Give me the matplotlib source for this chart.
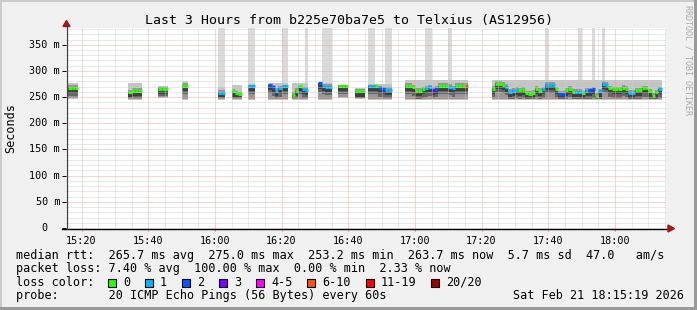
import matplotlib
matplotlib.use('Agg')
import matplotlib.pyplot as plt
from matplotlib.patches import Rectangle, Polygon
from matplotlib.lines import Line2D

W, H = 697, 310

# one sample per 60s, x = minutes after 15:00
seg_start = [16, 34, 43, 50, 61, 65, 70, 76, 83, 91, 97, 102, 106, 117, 143]
seg_median = [
    [268, 268, 268],
    [259, 262, 262, 262],
    [266, 266, 266],
    [272, 272],
    [258, 258],
    [261, 257, 255],
    [272, 272],
    [273, 269, 262, 267, 271, 271],
    [254, 262, 271, 265, 264],
    [276, 272, 270, 270],
    [272, 272, 272],
    [261, 261, 261],
    [271, 271, 271, 267, 265, 264, 264],
    [271, 271, 269, 262, 262, 265, 267, 269, 264, 266, 271, 271, 271, 270, 267,
     271, 271, 271, 271],
    [266, 275, 275, 273, 270, 260, 262, 264, 263, 264, 257, 256, 258, 266, 262,
     265, 273, 273, 273, 265, 256, 256, 263, 266, 260, 260, 260, 257, 262, 263,
     265, 252, 261, 275, 273, 267, 265, 265, 265, 268, 266, 258, 258, 263, 263,
     267, 267, 261, 253, 259, 265],
]
# loss class index per sample (0 -> "0", 1 -> "1", 2 -> "2", 3 -> "3", 5 -> "6-10")
seg_loss = [
    "000", "0000", "000", "00", "11", "000", "11", "221111", "00011", "2111",
    "000", "000", "1102211", "0000001132000110005",
    "000011110000000111102200011012201110000001100000001",
]
smoke_lo = [246, 245, 249, 245, 245, 245, 245, 245, 245, 245, 248, 246, 245, 244, 244]
smoke_hi = [277, 276, 272, 280, 270, 274, 275, 276, 276, 277, 274, 268, 275, 282, 282]
# samples whose upper smoke runs off the top of the chart
spike_minutes = [61, 62, 70, 71, 80, 81, 87, 92, 93, 94, 106, 107, 111, 112,
                 123, 124, 130, 159, 169, 173, 176]

loss_labels = ["0", "1", "2", "3", "4-5", "6-10", "11-19", "20/20"]
loss_colors = ["#26ff00", "#00b8ff", "#0059ff", "#7e00ff", "#ff00ff",
               "#ff5500", "#ff0000", "#a10000"]

xtick_minutes = [20, 40, 60, 80, 100, 120, 140, 160, 180]
xtick_labels = ["15:20", "15:40", "16:00", "16:20", "16:40", "17:00", "17:20",
                "17:40", "18:00"]
ytick_vals = [0, 50, 100, 150, 200, 250, 300, 350]
ytick_labels = ["0", "50 m", "100 m", "150 m", "200 m", "250 m", "300 m", "350 m"]

title = "Last 3 Hours from b225e70ba7e5 to Telxius (AS12956)"
line_rtt = "median rtt:  265.7 ms avg  275.0 ms max  253.2 ms min  263.7 ms now  5.7 ms sd  47.0   am/s"
line_loss = "packet loss: 7.40 % avg  100.00 % max  0.00 % min  2.33 % now"
line_probe = "probe:       20 ICMP Echo Pings (56 Bytes) every 60s"
stamp = "Sat Feb 21 18:15:19 2026"

MONO = 'DejaVu Sans Mono'


def fx(x):
    return x / W


def fy(y):
    return 1 - y / H


fig = plt.figure(figsize=(W / 100, H / 100), dpi=100, facecolor='#f0f0f0')
ax = fig.add_axes([fx(66), fy(228), 600 / W, 200 / H])
ax.set_facecolor('white')
ax.set_xlim(15.32, 195.32)
ax.set_ylim(0, 382)
for s in ax.spines.values():
    s.set_visible(False)

# tall light smoke columns
for m in spike_minutes:
    ax.fill_between([m, m + 1], 245, 382, color='#dadada', lw=0, zorder=1)

# smoke + median per segment
for start, med, loss, lo, hi in zip(seg_start, seg_median, seg_loss, smoke_lo, smoke_hi):
    n = len(med)
    ax.fill_between([start, start + n], lo, hi, color='#c4c4c4', lw=0, zorder=1.1)
    for k, v in enumerate(med):
        x0 = start + k
        ax.fill_between([x0, x0 + 1], lo + 2, min(hi - 2, v + 5),
                        color='#979797', lw=0, zorder=1.2)
        ax.fill_between([x0, x0 + 1], max(lo + 3, v - 16), v + 1,
                        color='#666666', lw=0, zorder=1.3)
        ax.fill_between([x0, x0 + 1], max(lo + 5, v - 10), v,
                        color='#3e3e3e', lw=0, zorder=1.4)
    xs = [start + k for k in range(n)]
    cols = [loss_colors[int(c)] for c in loss]
    ax.hlines(med, xs, [x + 1 for x in xs], colors=cols, lw=2.3, zorder=2)

# grid
ax.set_xticks(xtick_minutes)
ax.set_xticks(range(20, 196, 5), minor=True)
ax.set_yticks(ytick_vals)
ax.set_yticks(range(0, 383, 10), minor=True)
ax.set_axisbelow(False)
ax.grid(which='minor', color='#cccccc', lw=0.6, linestyle=(0, (1.2, 1.2)), zorder=3)
ax.grid(which='major', color='#f29a9a', lw=0.6, linestyle=(0, (1.2, 1.2)), zorder=3.1)

ax.set_xticklabels(xtick_labels, family=MONO, fontsize=7.3)
ax.set_yticklabels([])
ax.tick_params(axis='x', which='major', length=2.2, width=0.72, color='#e07070', pad=3.5)
ax.tick_params(axis='y', which='major', length=2.9, width=0.72, color='black', pad=2)
ax.tick_params(which='minor', length=0)

for v, lab in zip(ytick_vals, ytick_labels):
    off = -4.3 if ' m' in lab else -4.3 - 8.8
    ax.annotate(lab, xy=(0, v), xycoords=('axes fraction', 'data'),
                xytext=(off, 0), textcoords='offset points',
                ha='right', va='center', family=MONO, fontsize=7.3)

# axes lines with arrows
fig.add_artist(Line2D([fx(62), fx(669)], [fy(228.5), fy(228.5)],
                      transform=fig.transFigure, color='black', lw=1.0, zorder=5))
fig.add_artist(Line2D([fx(66.5), fx(66.5)], [fy(228.5), fy(25)],
                      transform=fig.transFigure, color='#404040', lw=0.9, zorder=5))
fig.add_artist(Polygon([(fx(63), fy(26.5)), (fx(70), fy(26.5)), (fx(66.5), fy(20.5))],
                       closed=True, transform=fig.transFigure, color='#a01818', zorder=6))
fig.add_artist(Polygon([(fx(668), fy(225)), (fx(668), fy(232)), (fx(674.5), fy(228.5))],
                       closed=True, transform=fig.transFigure, color='#a01818', zorder=6))

# texts
fig.text(fx(145), fy(24), title, family=MONO, fontsize=9.5, va='baseline')
fig.text(fx(11), fy(128), "Seconds", family=MONO, fontsize=8.5, rotation=90,
         ha='center', va='center')
fig.text(fx(688), fy(5), "RRDTOOL / TOBI OETIKER", family=MONO, fontsize=6,
         rotation=-90, ha='center', va='top', color='#aaaaaa')

fig.text(fx(16), fy(258.5), line_rtt, family=MONO, fontsize=8.5, va='baseline')
fig.text(fx(16), fy(272), line_loss, family=MONO, fontsize=8.5, va='baseline')
fig.text(fx(16), fy(285.7), "loss color:", family=MONO, fontsize=8.5, va='baseline')
fig.text(fx(16), fy(299.3), line_probe, family=MONO, fontsize=8.5, va='baseline')
fig.text(fx(513), fy(299.3), stamp, family=MONO, fontsize=8.5, va='baseline')

bx = 108
for lab, col in zip(loss_labels, loss_colors):
    fig.add_artist(Rectangle((fx(bx), fy(286.5)), 8 / W, 8 / H, transform=fig.transFigure,
                             facecolor=col, edgecolor='black', lw=0.8))
    fig.text(fx(bx + 15), fy(285.7), lab, family=MONO, fontsize=8.5, va='baseline')
    bx += 37 + 7.1 * (len(lab) - 1)

# frame shading
fig.add_artist(Rectangle((0, fy(2)), 1, 2 / H, transform=fig.transFigure, color='#cbcbcb', lw=0))
fig.add_artist(Rectangle((0, 0), 2 / W, 1, transform=fig.transFigure, color='#cbcbcb', lw=0))
fig.add_artist(Rectangle((0, 0), 1, 3 / H, transform=fig.transFigure, color='#999999', lw=0))
fig.add_artist(Rectangle((fx(694), 0), 3 / W, 1, transform=fig.transFigure, color='#999999', lw=0))

fig.savefig('out.png', dpi=100, facecolor=fig.get_facecolor())
